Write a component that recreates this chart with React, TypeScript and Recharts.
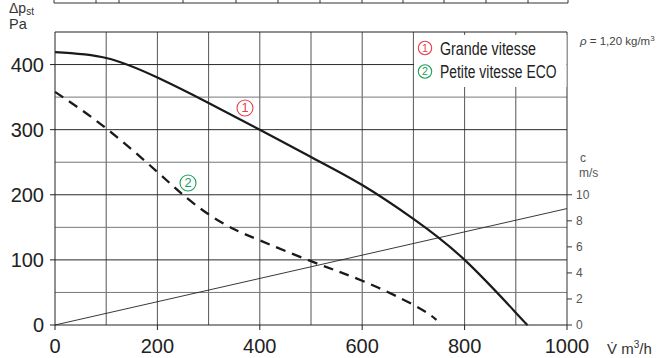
import React from "react";
import { LineChart, Line, XAxis, YAxis, ReferenceLine } from "recharts";

// Grande vitesse (solid) : débit m3/h -> pression Pa
const flowHigh = [0, 100, 200, 300, 400, 500, 600, 700, 800, 900, 923];
const pressureHigh = [419, 410, 380, 341, 300, 258, 215, 163, 100, 19, 0];

// Petite vitesse ECO (dashed)
const flowEco = [0, 100, 200, 250, 300, 350, 400, 500, 600, 700, 745];
const pressureEco = [358, 302, 235, 200, 170, 147, 130, 98, 68, 31, 8];

// vitesse dans le conduit c (m/s)
const flowDuct = [0, 1000];
const velocityDuct = [0, 8.94];

const xTicks = [0, 200, 400, 600, 800, 1000];
const pTicks = [0, 100, 200, 300, 400];
const cTicks = [0, 2, 4, 6, 8, 10];
const gridFlow = [100, 200, 300, 400, 500, 600, 700, 800, 900];
const gridPressure = [50, 100, 150, 200, 250, 300, 350, 400];
const tableCols = [54, 96, 119, 183, 236, 278, 320, 362, 403, 444, 486, 528, 568];

const highData = flowHigh.map((q, i) => ({ q, p: pressureHigh[i] }));
const ecoData = flowEco.map((q, i) => ({ q, p: pressureEco[i] }));
const ductData = flowDuct.map((q, i) => ({ q, c: velocityDuct[i] }));

const FONT = "'Liberation Sans', Arial, sans-serif";
const RED = "#e8414b";
const GREEN = "#1f9e5a";

const Circled = ({ cx, cy, r, n, color }: { cx: number; cy: number; r: number; n: string; color: string }) => (
  <g>
    <circle cx={cx} cy={cy} r={r} fill="#fff" stroke={color} strokeWidth={1.1} />
    <text x={cx} y={cy + r * 0.55} textAnchor="middle" fontSize={r * 1.6} fill={color} fontFamily={FONT}>
      {n}
    </text>
  </g>
);

export default function App() {
  return (
    <div style={{ position: "absolute", left: 0, top: 0, width: 661, height: 358, background: "#fff", overflow: "hidden" }}>
      <LineChart width={661} height={358} margin={{ top: 32, right: 44, bottom: 8, left: 5 }}>
        <XAxis
          type="number"
          dataKey="q"
          domain={[0, 1000]}
          ticks={xTicks}
          height={25}
          tickSize={5}
          tickMargin={9}
          stroke="#222"
          tick={{ fontSize: 20, fill: "#222", fontFamily: FONT }}
        />
        <YAxis
          yAxisId="p"
          domain={[0, 450]}
          ticks={pTicks}
          width={50}
          tickSize={5}
          tickMargin={6}
          stroke="#222"
          tick={{ fontSize: 20, fill: "#222", fontFamily: FONT }}
        />
        <YAxis
          yAxisId="c"
          orientation="right"
          domain={[0, 22.5]}
          ticks={cTicks}
          width={50}
          tickSize={5}
          tickMargin={4}
          stroke="#333"
          tick={{ fontSize: 12, fill: "#555", fontFamily: FONT }}
        />
        {gridFlow.map((v) => (
          <ReferenceLine key={"v" + v} x={v} yAxisId="p" stroke="#555" strokeWidth={1} />
        ))}
        {gridPressure.map((v) => (
          <ReferenceLine key={"h" + v} y={v} yAxisId="p" stroke={v % 100 === 0 ? "#2a2a2a" : "#777"} strokeWidth={1} />
        ))}
        <ReferenceLine y={450} yAxisId="p" stroke="#222" strokeWidth={1} />
        <Line
          yAxisId="c"
          data={ductData}
          dataKey="c"
          type="linear"
          stroke="#222"
          strokeWidth={0.9}
          dot={false}
          isAnimationActive={false}
        />
        <Line
          yAxisId="p"
          data={ecoData}
          dataKey="p"
          type="natural"
          stroke="#1a1a1a"
          strokeWidth={2.3}
          strokeDasharray="10 7"
          dot={false}
          isAnimationActive={false}
        />
        <Line
          yAxisId="p"
          data={highData}
          dataKey="p"
          type="natural"
          stroke="#1a1a1a"
          strokeWidth={2.2}
          dot={false}
          isAnimationActive={false}
        />
      </LineChart>

      <svg width={661} height={358} style={{ position: "absolute", left: 0, top: 0, pointerEvents: "none" }}>
        {/* bas du tableau coupé en haut */}
        <line x1={54} x2={568} y1={3} y2={3} stroke="#333" strokeWidth={1} />
        {tableCols.map((x) => (
          <line key={x} x1={x} x2={x} y1={0} y2={3} stroke="#333" strokeWidth={1} />
        ))}

        <text x={9} y={13} fontSize={14} fill="#333" fontFamily={FONT}>
          Δp<tspan fontSize={10} dy={2}>st</tspan>
        </text>
        <text x={9} y={29} fontSize={14.5} fill="#333" fontFamily={FONT}>
          Pa
        </text>

        {/* légende */}
        <rect x={414} y={35} width={152.5} height={52} fill="#fff" />
        <Circled cx={425} cy={48} r={6.7} n="1" color={RED} />
        <text x={440} y={54.5} fontSize={17.5} fill="#222" fontFamily={FONT} textLength={96} lengthAdjust="spacingAndGlyphs">
          Grande vitesse
        </text>
        <Circled cx={425} cy={71.5} r={6.7} n="2" color={GREEN} />
        <text x={440} y={78} fontSize={17.5} fill="#222" fontFamily={FONT} textLength={116.5} lengthAdjust="spacingAndGlyphs">
          Petite vitesse ECO
        </text>

        <text x={580} y={45} fontSize={11.5} fill="#444" fontFamily={FONT}>
          <tspan fontStyle="italic">ρ</tspan> = 1,20 kg/m<tspan fontSize={8} dy={-4}>3</tspan>
        </text>
        <text x={580} y={162} fontSize={12} fill="#555" fontFamily={FONT}>
          c
        </text>
        <text x={579} y={177} fontSize={12} fill="#555" fontFamily={FONT}>
          m/s
        </text>
        <text x={607} y={354} fontSize={15} fill="#333" fontFamily={FONT}>
          V̇ m<tspan fontSize={10} dy={-6}>3</tspan>
          <tspan dy={6}>/h</tspan>
        </text>

        <Circled cx={245} cy={108} r={8} n="1" color={RED} />
        <Circled cx={188} cy={183} r={8} n="2" color={GREEN} />
      </svg>
    </div>
  );
}
